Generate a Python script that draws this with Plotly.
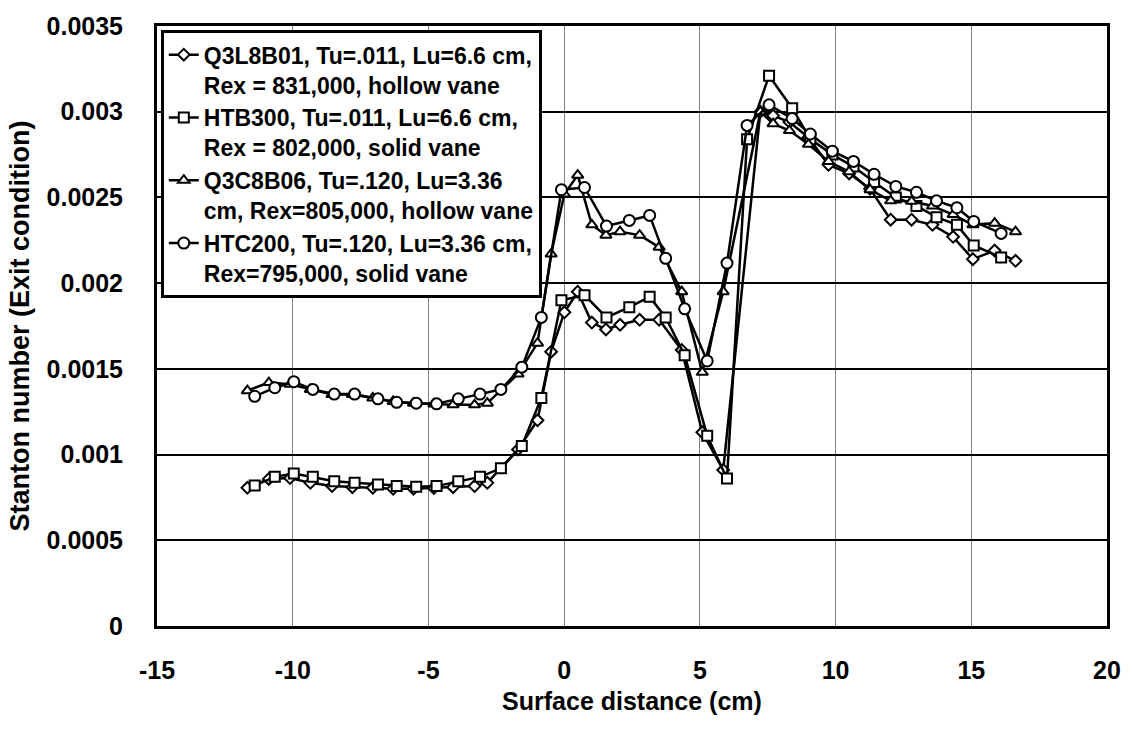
import plotly.graph_objects as go

# Hollow-vane measurement locations (cm)
x_hollow = [-11.67, -10.88, -10.1, -9.35, -8.55, -7.8, -7.05, -6.3, -5.55, -4.8,
            -4.09, -3.3, -2.83, -1.7, -0.98, -0.48, 0.01, 0.5, 1.02, 1.54,
            2.06, 2.78, 3.5, 4.33, 5.09, 5.86, 7.23, 7.7, 8.3, 9.0,
            9.74, 10.5, 11.27, 12.03, 12.8, 13.57, 14.33, 15.06, 15.86, 16.63]

# Solid-vane measurement locations (cm)
x_solid = [-11.4, -10.66, -9.96, -9.26, -8.47, -7.72, -6.86, -6.17, -5.45, -4.7,
           -3.9, -3.1, -2.33, -1.56, -0.84, -0.1, 0.75, 1.56, 2.4, 3.15,
           3.74, 4.44, 5.27, 6.0, 6.74, 7.55, 8.4, 9.07, 9.88, 10.66,
           11.42, 12.22, 12.98, 13.72, 14.47, 15.09, 16.1]

st_q3l8b01 = [0.000806, 0.000858, 0.000863, 0.000835, 0.000816, 0.00081, 0.000806, 0.0008, 0.0008, 0.000805,
              0.00081, 0.000816, 0.000835, 0.00103, 0.0012, 0.0016, 0.00183, 0.00195, 0.00177, 0.00173,
              0.001757, 0.001786, 0.001786, 0.00161, 0.00113, 0.00091, 0.0030, 0.002977, 0.00294, 0.00285,
              0.00269, 0.00264, 0.00255, 0.00237, 0.00237, 0.00234, 0.00227, 0.00214, 0.00219, 0.00213]

st_q3c8b06 = [0.001373, 0.00142, 0.00141, 0.00138, 0.00135, 0.00135, 0.00133, 0.00131, 0.0013, 0.001295,
              0.00129, 0.00129, 0.0013, 0.00147, 0.00165, 0.00217, 0.00252, 0.00263, 0.00234, 0.00228,
              0.0023, 0.00228, 0.00221, 0.00195, 0.00148, 0.00195, 0.0030, 0.00293, 0.00289, 0.00281,
              0.00271, 0.00265, 0.002545, 0.00248, 0.002477, 0.00245, 0.0024, 0.00234, 0.00235, 0.0023]

st_htb300 = [0.00082, 0.00087, 0.00089, 0.00087, 0.000845, 0.000835, 0.000825, 0.000816, 0.000812, 0.000816,
             0.000845, 0.00087, 0.00092, 0.00105, 0.00133, 0.0019, 0.00193, 0.0018, 0.00186, 0.00192,
             0.0018, 0.00158, 0.00111, 0.00086, 0.00284, 0.00321, 0.00302, 0.00284, 0.00275, 0.00268,
             0.00259, 0.0025, 0.00245, 0.002385, 0.00234, 0.00222, 0.00215]

st_htc200 = [0.00134, 0.00139, 0.001425, 0.00138, 0.001353, 0.001353, 0.001325, 0.001305, 0.0013, 0.001296,
             0.001325, 0.001353, 0.00138, 0.00151, 0.0018, 0.002545, 0.002558, 0.002333, 0.002366, 0.002395,
             0.002145, 0.00185, 0.001546, 0.002117, 0.00292, 0.00304, 0.00296, 0.00287, 0.00277, 0.00271,
             0.002635, 0.002564, 0.00253, 0.00248, 0.00244, 0.00236, 0.00229]

names = ["Q3L8B01, Tu=.011, Lu=6.6 cm,<br>Rex = 831,000, hollow vane",
         "HTB300, Tu=.011, Lu=6.6 cm,<br>Rex = 802,000, solid vane",
         "Q3C8B06, Tu=.120, Lu=3.36<br>cm, Rex=805,000, hollow vane",
         "HTC200, Tu=.120, Lu=3.36 cm,<br>Rex=795,000, solid vane"]

x_ticks = [-15, -10, -5, 0, 5, 10, 15, 20]
x_ticktext = ["-15", "-10", "-5", "0", "5", "10", "15", "20"]
y_ticks = [0, 0.0005, 0.001, 0.0015, 0.002, 0.0025, 0.003, 0.0035]
y_ticktext = ["0", "0.0005", "0.001", "0.0015", "0.002", "0.0025", "0.003", "0.0035"]

FONT = "Liberation Sans, Arial, sans-serif"

series = [
    (x_hollow, st_q3l8b01, names[0], "diamond", 9),
    (x_solid, st_htb300, names[1], "square", 10),
    (x_hollow, st_q3c8b06, names[2], "triangle-up", 10),
    (x_solid, st_htc200, names[3], "circle", 11),
]

fig = go.Figure()
for i, (xs, ys, nm, sym, sz) in enumerate(series):
    fig.add_trace(go.Scatter(
        x=xs, y=ys, name=nm, mode="lines+markers",
        line=dict(color="black", width=2.5),
        marker=dict(symbol=sym, size=sz, color="white",
                    line=dict(color="black", width=2)),
        legendgroup="g%d" % i,
    ))

fig.update_layout(
    width=1133, height=734,
    margin=dict(l=157, r=23, t=19, b=108),
    paper_bgcolor="white", plot_bgcolor="white",
    font=dict(family=FONT, size=23, color="black", weight="bold"),
    showlegend=True,
    legend=dict(
        x=0.004, y=0.993, xanchor="left", yanchor="top",
        bgcolor="white", bordercolor="black", borderwidth=3,
        font=dict(family=FONT, size=23, color="black", weight="bold"),
        valign="top", tracegroupgap=0,
    ),
    xaxis=dict(
        range=[-15, 20], tickvals=x_ticks, ticktext=x_ticktext,
        showgrid=True, gridcolor="#808080", gridwidth=1,
        showline=True, linecolor="black", linewidth=3, mirror=True,
        zeroline=False, ticks="",
        tickfont=dict(family=FONT, size=25, color="black", weight="bold"),
        ticklabelstandoff=20,
        title=dict(text="Surface distance (cm)", standoff=10,
                   font=dict(family=FONT, size=25, color="black", weight="bold")),
    ),
    yaxis=dict(
        range=[0, 0.0035], tickvals=y_ticks, ticktext=y_ticktext,
        showgrid=True, gridcolor="black", gridwidth=1.5,
        showline=True, linecolor="black", linewidth=3, mirror=True,
        zeroline=False, ticks="",
        tickfont=dict(family=FONT, size=25, color="black", weight="bold"),
        ticklabelstandoff=26,
        title=dict(text="Stanton number (Exit condition)", standoff=10,
                   font=dict(family=FONT, size=27, color="black", weight="bold")),
    ),
)

fig.write_html("out.html")
